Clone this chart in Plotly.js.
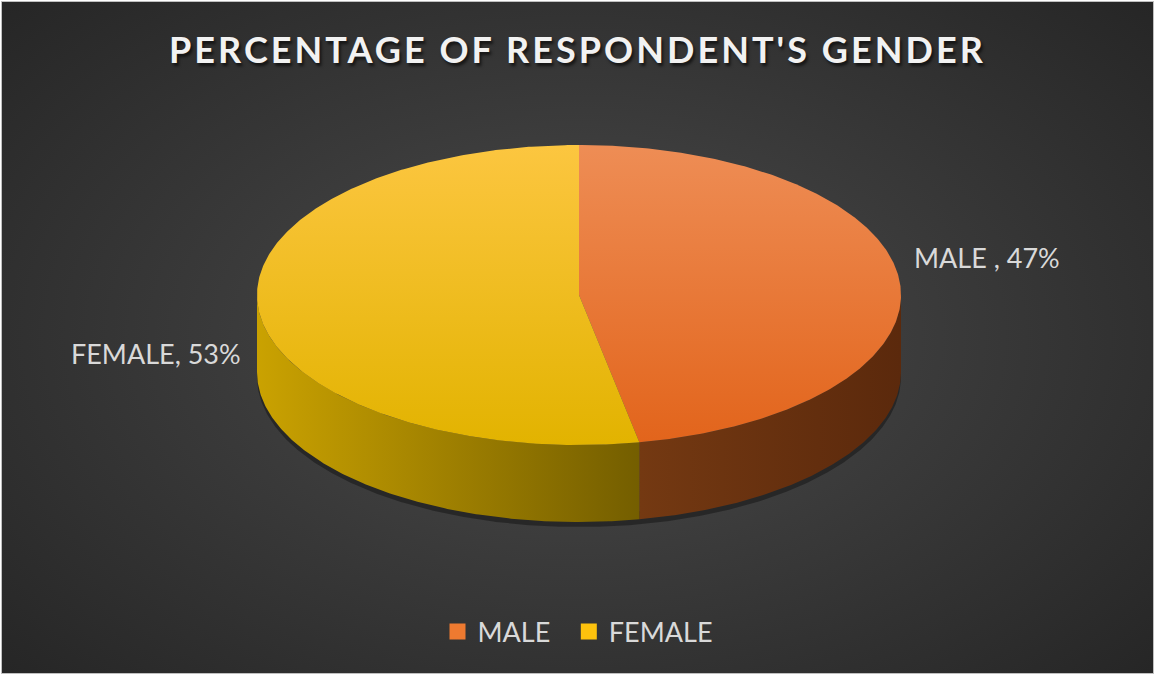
<!DOCTYPE html>
<html>
<head>
<meta charset="utf-8">
<script src="https://cdn.plot.ly/plotly-3.0.1.min.js"></script>
<style>
  html, body { margin:0; padding:0; background:#ffffff; }
  #wrap { position:absolute; left:1px; top:1px; width:1153px; height:673px;
          border:1px solid #bfbfbf; box-sizing:border-box; overflow:hidden;
          background: radial-gradient(ellipse 70% 75% at 50% 50%, #4c4c4c 0%, #3a3a3a 45%, #252525 100%); }
  #chart { position:absolute; left:-2px; top:-2px; width:1155px; height:675px; }
</style>
</head>
<body>
<div id="wrap"><div id="chart"></div></div>
<script>
// ---- data ----
const categories = ['MALE', 'FEMALE'];
const percents = [47, 53];
const labelTexts = ['MALE , 47%', 'FEMALE, 53%'];
const topColors = [['#ee8d55', '#e2641b'], ['#fcc640', '#e2b300']];
const sideColors = [['#743912', '#5b290c'], ['#caa201', '#745e00']];
const legendColors = ['#ee7a30', '#fdc20d'];

// ---- geometry (layout) ----
const W = 1155, H = 675;
const cx = 579, cy = 295, rx = 322, ry = 150, depth = 77;
const STEP = Math.PI / 360;
function pt(t, dy) { return [cx + rx * Math.sin(t), cy - ry * Math.cos(t) + (dy || 0)]; }
function arc(a, b, dy) {
  const xs = [], ys = [];
  const n = Math.max(2, Math.ceil(Math.abs(b - a) / STEP));
  for (let i = 0; i <= n; i++) { const p = pt(a + (b - a) * i / n, dy); xs.push(p[0]); ys.push(p[1]); }
  return [xs, ys];
}

const total = percents.reduce((s, v) => s + v, 0);
const traces = [];
const annotations = [];

// soft shadow
{
  const [sx, sy] = arc(Math.PI / 2 - 0.05, 3 * Math.PI / 2 + 0.05, depth + 5);
  const [bx, by] = arc(3 * Math.PI / 2 + 0.05, Math.PI / 2 - 0.05, depth - 8);
  traces.push({ x: sx.concat(bx), y: sy.concat(by), mode: 'lines', fill: 'toself',
    fillcolor: 'rgba(0,0,0,0.35)', line: { width: 0 }, hoverinfo: 'skip', showlegend: false });
}

let cum = 0;
const slices = percents.map((v, i) => {
  const a0 = cum / total * 2 * Math.PI; cum += v;
  const a1 = cum / total * 2 * Math.PI;
  return { a0, a1, i };
});

// side walls
slices.forEach(s => {
  const st = Math.max(s.a0, Math.PI / 2), en = Math.min(s.a1, 3 * Math.PI / 2);
  if (en <= st) return;
  const [tx, ty] = arc(st, en, 0);
  const [bx, by] = arc(en, st, depth);
  const xs = tx.concat(bx), ys = ty.concat(by);
  traces.push({ x: xs, y: ys, mode: 'lines', fill: 'toself', line: { width: 0 },
    fillgradient: { type: 'horizontal', start: Math.min(...xs), stop: Math.max(...xs),
      colorscale: [[0, sideColors[s.i][0]], [1, sideColors[s.i][1]]] },
    hoverinfo: 'skip', showlegend: false });
});

// top faces
slices.forEach(s => {
  const [ax, ay] = arc(s.a0, s.a1, 0);
  const xs = [cx].concat(ax, [cx]), ys = [cy].concat(ay, [cy]);
  traces.push({ x: xs, y: ys, mode: 'lines', fill: 'toself', line: { width: 0 },
    fillgradient: { type: 'vertical', start: cy - ry, stop: cy + ry,
      colorscale: [[0, topColors[s.i][0]], [1, topColors[s.i][1]]] },
    hoverinfo: 'skip', showlegend: false });
  // data label
  const mid = (s.a0 + s.a1) / 2;
  const p = pt(mid, 0);
  const right = Math.sin(mid) >= 0;
  annotations.push({ x: p[0] + (right ? 12 : -15), y: p[1] + (right ? -23 : 44),
    xref: 'x', yref: 'y', text: labelTexts[s.i], showarrow: false,
    xanchor: right ? 'left' : 'right', yanchor: 'middle',
    font: { family: 'Lato, sans-serif', size: 27, color: '#d9d9d9' } });
});

// legend proxies
categories.forEach((c, i) => {
  traces.push({ x: [null], y: [null], mode: 'markers',
    name: i < categories.length - 1 ? c + '\u2002' : c,
    marker: { symbol: 'square', size: 18, color: legendColors[i] }, hoverinfo: 'skip' });
});

const layout = {
  width: W, height: H,
  margin: { l: 0, r: 0, t: 0, b: 0 },
  paper_bgcolor: 'rgba(0,0,0,0)', plot_bgcolor: 'rgba(0,0,0,0)',
  xaxis: { range: [0, W], visible: false, fixedrange: true },
  yaxis: { range: [H, 0], visible: false, fixedrange: true },
  showlegend: true,
  legend: { orientation: 'h', x: 0.5, xanchor: 'center', y: (H - 632) / H, yanchor: 'middle',
    font: { family: 'Lato, sans-serif', size: 27, color: '#d9d9d9' },
    bgcolor: 'rgba(0,0,0,0)', itemclick: false, itemdoubleclick: false, tracegroupgap: 0 },
  title: { text: "PERCENTAGE OF RESPONDENT'S GENDER", x: 0.5, xanchor: 'center',
    y: 1 - 50 / H, yanchor: 'middle', yref: 'container',
    font: { family: 'Lato, sans-serif', size: 36, weight: 'bold', color: '#f2f2f2' } },
  annotations: annotations
};

Plotly.newPlot('chart', traces, layout, { displayModeBar: false, staticPlot: true }).then(() => {
  const t = document.querySelector('.gtitle');
  if (t) { t.style.letterSpacing = '3.05px'; t.style.textShadow = '2px 3px 3px rgba(0,0,0,0.6)'; }
});
</script>
</body>
</html>
